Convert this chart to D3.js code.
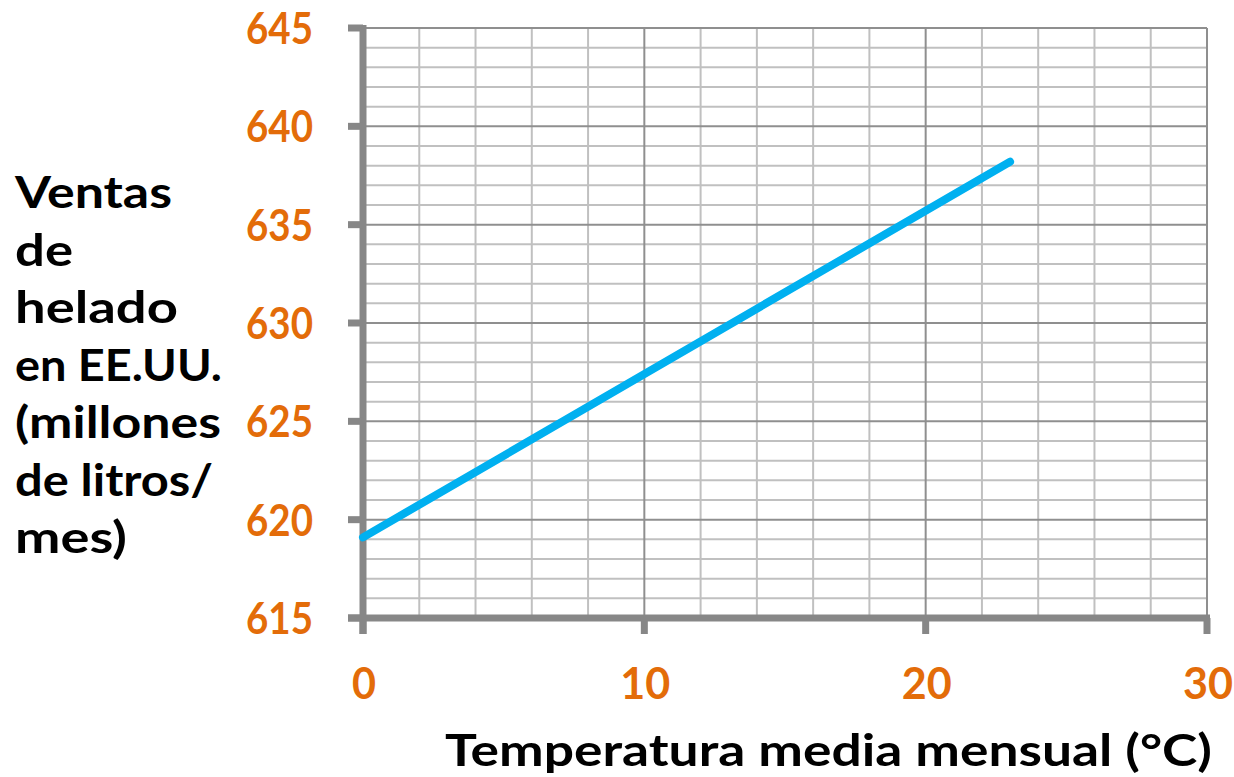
<!DOCTYPE html>
<html><head><meta charset="utf-8">
<script src="https://cdn.jsdelivr.net/npm/d3@7"></script>
<style>
html,body{margin:0;padding:0;background:#fff;}
svg{display:block;}
text{font-family:Lato,"Open Sans",sans-serif;font-weight:bold;}
</style></head>
<body><svg id="c" width="1234" height="777"></svg>
<script>
const temperatura = [0, 23];
const ventas = [619.1, 638.2];
const xTicks = [0, 10, 20, 30];
const yTicks = [615, 620, 625, 630, 635, 640, 645];
const yTitleLines = ["Ventas", "de", "helado", "en EE.UU.", "(millones", "de litros/", "mes)"];
const xTitle = "Temperatura media mensual (°C)";

// rendered widths to mimic the wide geometric face of the original
const yTitleWidths = [157, 58, 163, 207, 206, 198, 112];
const digitWidth = 23;

const svg = d3.select("#c");
const x = d3.scaleLinear().domain([0, 30]).range([363, 1207]);
const y = d3.scaleLinear().domain([615, 645]).range([618, 28]);

const g = svg.append("g");
// minor grid
g.selectAll(".hmin").data(d3.range(615, 646, 1).filter(v => v % 5 !== 0)).join("line")
  .attr("x1", x(0)).attr("x2", x(30)).attr("y1", d => y(d)).attr("y2", d => y(d))
  .attr("stroke", "#c0c0c0").attr("stroke-width", 2);
g.selectAll(".vmin").data(d3.range(0, 31, 2).filter(v => v % 10 !== 0)).join("line")
  .attr("y1", y(615)).attr("y2", y(645)).attr("x1", d => x(d)).attr("x2", d => x(d))
  .attr("stroke", "#c0c0c0").attr("stroke-width", 2);
// major grid
g.selectAll(".hmaj").data(yTicks).join("line")
  .attr("x1", x(0)).attr("x2", x(30)).attr("y1", d => y(d)).attr("y2", d => y(d))
  .attr("stroke", "#8f8f8f").attr("stroke-width", 2);
g.selectAll(".vmaj").data(xTicks).join("line")
  .attr("y1", y(615)).attr("y2", y(645)).attr("x1", d => x(d)).attr("x2", d => x(d))
  .attr("stroke", "#8f8f8f").attr("stroke-width", 2);

// axes
const axCol = "#878787";
svg.append("line").attr("x1", x(0)).attr("x2", x(0)).attr("y1", y(645) - 3).attr("y2", y(615) + 16)
  .attr("stroke", axCol).attr("stroke-width", 7);
svg.append("line").attr("x1", x(0) - 15).attr("x2", x(30) + 3).attr("y1", y(615)).attr("y2", y(615))
  .attr("stroke", axCol).attr("stroke-width", 7);
svg.selectAll(".yt").data(yTicks).join("line")
  .attr("x1", x(0) - 15).attr("x2", x(0)).attr("y1", d => y(d)).attr("y2", d => y(d))
  .attr("stroke", axCol).attr("stroke-width", 7);
svg.selectAll(".xt").data(xTicks).join("line")
  .attr("x1", d => x(d)).attr("x2", d => x(d)).attr("y1", y(615)).attr("y2", y(615) + 16)
  .attr("stroke", axCol).attr("stroke-width", 7);

// line
const pts = temperatura.map((t, i) => [t, ventas[i]]);
svg.append("path").datum(pts)
  .attr("d", d3.line().x(d => x(d[0])).y(d => y(d[1])))
  .attr("fill", "none").attr("stroke", "#00b0f0").attr("stroke-width", 8).attr("stroke-linecap", "round");

// tick labels
const orange = "#e36c09";
svg.selectAll(".yl").data(yTicks).join("text")
  .attr("x", 313).attr("y", d => y(d)).attr("dy", "0.36em")
  .attr("text-anchor", "end").attr("fill", orange).attr("font-size", 44)
  .attr("textLength", d => String(d).length * digitWidth - 2).attr("lengthAdjust", "spacingAndGlyphs")
  .text(d => d);
svg.selectAll(".xl").data(xTicks).join("text")
  .attr("x", d => x(d) + 1).attr("y", 699)
  .attr("text-anchor", "middle").attr("fill", orange).attr("font-size", 44)
  .attr("textLength", d => String(d).length * (digitWidth + 3) - 2).attr("lengthAdjust", "spacingAndGlyphs")
  .text(d => d);

// titles
svg.selectAll(".yti").data(yTitleLines).join("text")
  .attr("x", 15).attr("y", (d, i) => 208 + i * 57.5)
  .attr("fill", "#000").attr("font-size", 44)
  .attr("textLength", (d, i) => yTitleWidths[i]).attr("lengthAdjust", "spacingAndGlyphs")
  .text(d => d);
svg.append("text").attr("x", 445).attr("y", 766)
  .attr("fill", "#000").attr("font-size", 44)
  .attr("textLength", 767).attr("lengthAdjust", "spacingAndGlyphs")
  .text(xTitle);
</script></body></html>
